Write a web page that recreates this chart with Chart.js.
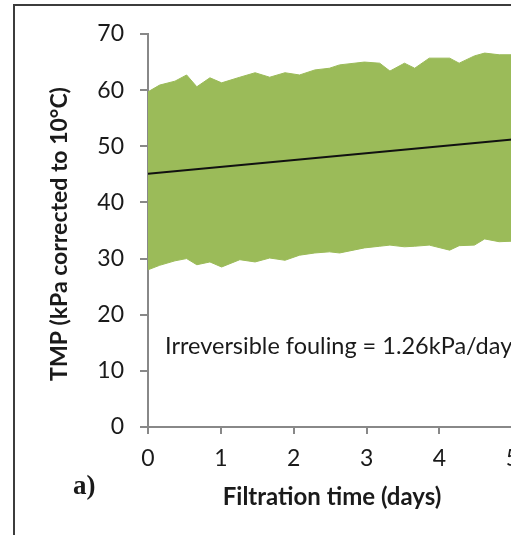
<!DOCTYPE html>
<html>
<head>
<meta charset="utf-8">
<script src="https://cdn.jsdelivr.net/npm/chart.js@4.4.1/dist/chart.umd.min.js"></script>
<style>
html,body{margin:0;padding:0;background:#fff;overflow:hidden;}
#wrap{position:absolute;left:0;top:0;width:530px;height:535px;}
#frame{position:absolute;left:13px;top:4px;width:600px;height:600px;border:2px solid #3c3c3c;}
</style>
</head>
<body>
<div id="wrap">
<div id="frame"></div>
<canvas id="tmpChart" width="530" height="535" style="position:absolute;left:0;top:0;"></canvas>
</div>
<script>
//Data
var days = [0,0.16,0.37,0.53,0.67,0.85,1.01,1.26,1.47,1.67,1.88,2.08,2.29,2.49,2.63,2.97,3.18,3.32,3.52,3.66,3.86,4.14,4.27,4.48,4.62,4.82,5.0];
var tmpHigh = [59.7,60.9,61.6,62.7,60.6,62.2,61.3,62.3,63.1,62.3,63.1,62.7,63.6,63.9,64.5,65.0,64.8,63.4,64.8,63.9,65.7,65.7,64.8,66.1,66.6,66.3,66.3];
var tmpLow = [28.0,28.8,29.6,30.0,28.9,29.4,28.5,29.8,29.4,30.1,29.7,30.6,31.0,31.2,31.0,31.9,32.2,32.4,32.1,32.2,32.4,31.5,32.3,32.4,33.5,33.0,33.1];
var trendDays = [0,5];
var trendTMP = [45.1,51.2];
var xTicks = [0,1,2,3,4,5];
var yTicks = [0,10,20,30,40,50,60,70];

function pts(xs,ys){
	var out=[];
	for(var i=0;i<xs.length;i++){out.push({x:xs[i],y:ys[i]});}
	return out;
}
var green = '#9bbb59';
var axisGrey = '#888888';
//Texts
var textPlugin = {
	id:'texts',
	afterDraw:function(chart){
		var c = chart.ctx;
		c.save();
		c.fillStyle = '#1a1a1a';
		//y title
		c.save();
		c.translate(60,234);
		c.rotate(-Math.PI/2);
		c.font = 'bold 23px Lato';
		c.textAlign = 'center';
		c.textBaseline = 'middle';
		c.fillText('TMP (kPa corrected to 10°C)',0,0);
		c.restore();
		//x title
		c.font = 'bold 24px Lato';
		c.textAlign = 'center';
		c.textBaseline = 'middle';
		c.fillText('Filtration time (days)',332,497);
		//panel label
		c.font = 'bold 27px "Liberation Serif"';
		c.textAlign = 'left';
		c.fillText('a)',73,487);
		//annotation
		c.font = '23.5px Lato';
		c.fillText('Irreversible fouling = 1.26kPa/day',165,346);
		c.restore();
	}
};
var ctx = document.getElementById('tmpChart');
var tmpChart = new Chart(ctx,{
	type:'line',
	data:{
		datasets:[{
			label:'TMP high',
			data:pts(days,tmpHigh),
			borderColor:green,
			backgroundColor:green,
			borderWidth:1,
			pointRadius:0,
			fill:'+1',
			order:2
		},{
			label:'TMP low',
			data:pts(days,tmpLow),
			borderColor:green,
			backgroundColor:green,
			borderWidth:1,
			pointRadius:0,
			fill:false,
			order:3
		},{
			label:'Trend',
			data:pts(trendDays,trendTMP),
			borderColor:'#111',
			borderWidth:2,
			pointRadius:0,
			fill:false,
			order:1
		}]
	},
	options:{
		responsive:false,
		animation:false,
		devicePixelRatio:1,
		layout:{padding:{left:0,top:34,right:17,bottom:0}},
		plugins:{legend:{display:false},tooltip:{enabled:false},title:{display:false}},
		scales:{
			x:{
				type:'linear',
				min:0,max:5,
				afterBuildTicks:function(s){s.ticks=xTicks.map(function(v){return {value:v};});},
				afterFit:function(s){s.height=108;},
				ticks:{font:{family:'Lato',size:23},color:'#1a1a1a',padding:11},
				grid:{drawOnChartArea:false,drawTicks:true,tickLength:7,color:axisGrey,lineWidth:2},
				border:{display:true,color:axisGrey,width:2}
			},
			y:{
				min:0,max:70,
				afterBuildTicks:function(s){s.ticks=yTicks.map(function(v){return {value:v};});},
				afterFit:function(s){s.width=148;},
				ticks:{font:{family:'Lato',size:23},color:'#1a1a1a',padding:16},
				grid:{drawOnChartArea:false,drawTicks:true,tickLength:8,color:axisGrey,lineWidth:2},
				border:{display:true,color:axisGrey,width:2}
			}
		}
	},
	plugins:[textPlugin]
});
</script>
</body>
</html>
